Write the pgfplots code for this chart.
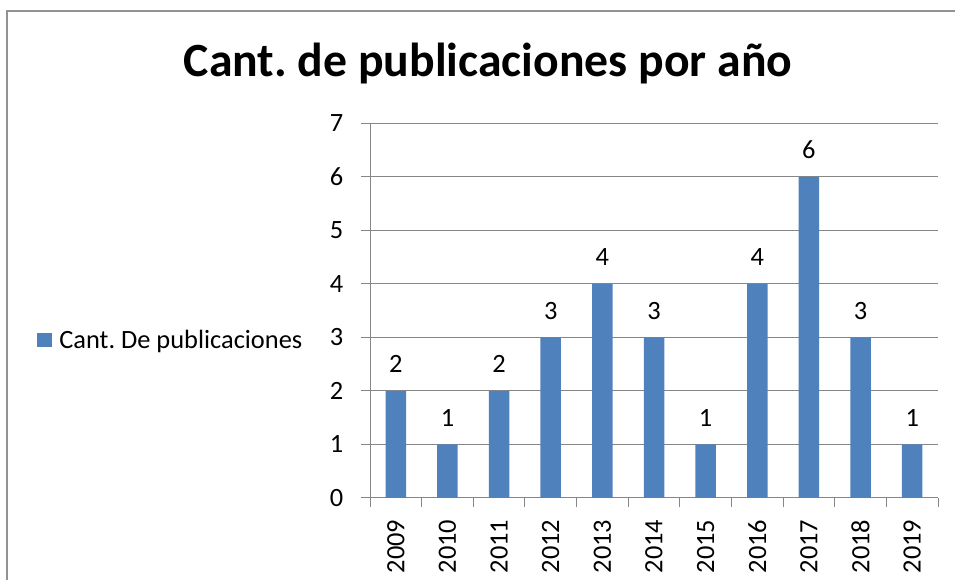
\documentclass[border=0pt]{standalone}
\usepackage{fontspec}
\setmainfont{Carlito}
\usepackage{pgfplots}
\pgfplotsset{compat=1.18}
\definecolor{barblue}{HTML}{4F81BD}
\definecolor{gridgray}{HTML}{868686}
\frenchspacing
\begin{document}
\begin{tikzpicture}[x=1pt,y=1pt]
\path[use as bounding box] (0,0) rectangle (955,580);
\draw[gridgray!90, line width=1.2pt] (7,0) -- (7,569) -- (955,569);
\node[anchor=base, font=\bfseries\fontsize{47.7}{56}\selectfont] at (488,503) {Cant. de publicaciones por año};
\begin{axis}[
  at={(370pt,82pt)}, anchor=south west,
  scale only axis, width=568pt, height=374.5pt,
  ybar, bar width=20.5pt,
  xmin=-0.5, xmax=10.5, ymin=0, ymax=7,
  xtick={-0.5,0.5,...,10.5},
  x tick label as interval,
  xticklabels={2009,2010,2011,2012,2013,2014,2015,2016,2017,2018,2019},
  ytick={0,...,7},
  axis x line*=bottom, axis y line*=left,
  axis line style={gridgray, line width=1pt, -},
  tick align=outside,
  major tick length=9pt,
  tick style={gridgray, line width=1pt},
  ymajorgrids, grid style={gridgray, line width=1pt},
  /pgf/number format/assume math mode=true,
  ticklabel style={font=\fontsize{26.4}{26}\selectfont, text=black},
  xticklabel style={rotate=90, anchor=east, inner xsep=12.5pt, inner ysep=0pt},
  yticklabel style={inner xsep=17.5pt, inner ysep=0pt},
  nodes near coords,
  nodes near coords style={font=\fontsize{26.4}{26}\selectfont, text=black,
    anchor=base, inner sep=0pt, yshift=18pt},
  legend style={at={(-0.586,0.422)}, anchor=west, draw=none, fill=none,
    font=\fontsize{26.4}{26}\selectfont, inner sep=0pt,
    /tikz/every odd column/.append style={column sep=5pt}},
  legend image code/.code={\fill[barblue] (0pt,-7pt) rectangle (15pt,7pt);},
]
\addplot[fill=barblue, draw=none] coordinates {
  (0,2) (1,1) (2,2) (3,3) (4,4) (5,3) (6,1) (7,4) (8,6) (9,3) (10,1)
};
\addlegendentry{Cant. De publicaciones}
\end{axis}
\end{tikzpicture}
\end{document}
